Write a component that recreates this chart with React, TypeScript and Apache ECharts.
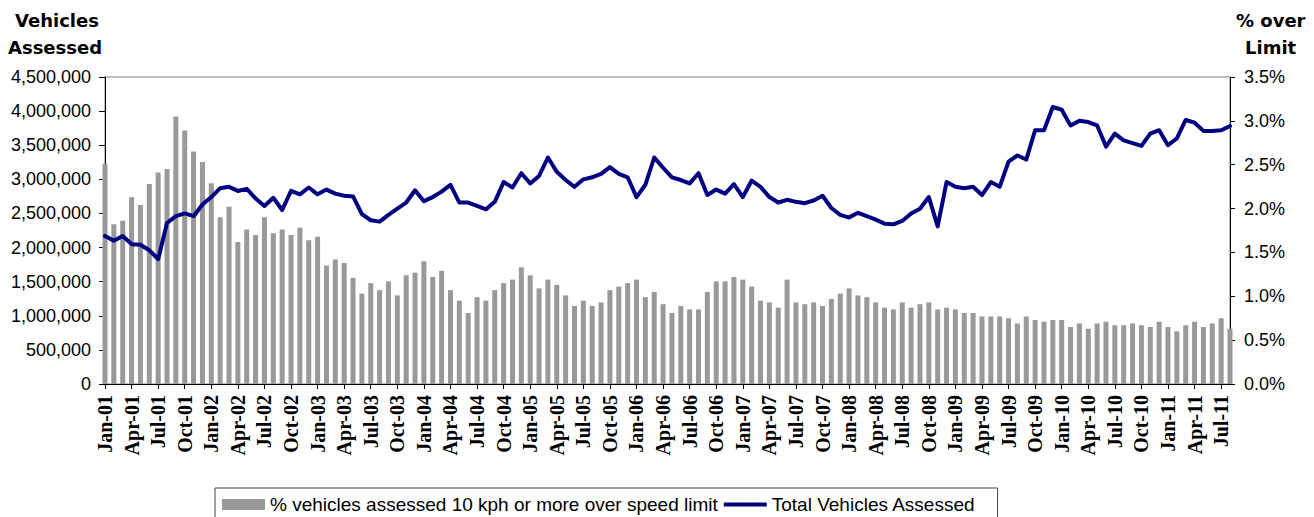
import React, { useEffect, useRef } from 'react';
import * as echarts from 'echarts';

const MONTHS = ['Jan', 'Feb', 'Mar', 'Apr', 'May', 'Jun', 'Jul', 'Aug', 'Sep', 'Oct', 'Nov', 'Dec'];
const categories: string[] = [];
for (let y = 1; y <= 11; y++) {
  for (let m = 0; m < 12; m++) {
    if (y === 11 && m > 7) break;
    categories.push(`${MONTHS[m]}-${String(y).padStart(2, '0')}`);
  }
}

const BAR_NAME = '% vehicles assessed 10 kph or more over speed limit';
const LINE_NAME = 'Total Vehicles Assessed';

// % of vehicles 10 kph or more over limit (right axis)
const pctOver = [
  2.51, 1.82, 1.86, 2.13, 2.04, 2.28, 2.41, 2.45, 3.05, 2.89,
  2.65, 2.53, 2.29, 1.90, 2.02, 1.62, 1.76, 1.70, 1.90, 1.72,
  1.76, 1.70, 1.78, 1.64, 1.68, 1.35, 1.42, 1.38, 1.21, 1.03,
  1.15, 1.07, 1.17, 1.01, 1.24, 1.27, 1.40, 1.22, 1.29, 1.07,
  0.95, 0.81, 0.99, 0.95, 1.07, 1.15, 1.19, 1.33, 1.24, 1.09,
  1.19, 1.13, 1.01, 0.89, 0.95, 0.89, 0.93, 1.07, 1.11, 1.15,
  1.19, 0.99, 1.05, 0.91, 0.81, 0.89, 0.85, 0.85, 1.05, 1.17,
  1.17, 1.22, 1.19, 1.11, 0.95, 0.93, 0.87, 1.19, 0.93, 0.91,
  0.93, 0.89, 0.97, 1.03, 1.09, 1.01, 0.99, 0.93, 0.87, 0.85,
  0.93, 0.87, 0.91, 0.93, 0.85, 0.87, 0.85, 0.81, 0.81, 0.77,
  0.77, 0.77, 0.75, 0.69, 0.77, 0.73, 0.71, 0.73, 0.73, 0.65,
  0.69, 0.63, 0.69, 0.71, 0.67, 0.67, 0.69, 0.67, 0.65, 0.71,
  0.65, 0.60, 0.67, 0.71, 0.65, 0.69, 0.75, 0.63,
];

// Total vehicles assessed (left axis)
const totalVehicles = [
  2170000, 2100000, 2170000, 2050000, 2040000, 1960000, 1830000, 2360000, 2460000, 2500000,
  2460000, 2630000, 2740000, 2870000, 2890000, 2830000, 2860000, 2720000, 2610000, 2730000,
  2550000, 2830000, 2780000, 2880000, 2780000, 2850000, 2790000, 2760000, 2750000, 2490000,
  2400000, 2380000, 2480000, 2570000, 2660000, 2840000, 2680000, 2740000, 2820000, 2920000,
  2660000, 2660000, 2610000, 2560000, 2670000, 2960000, 2880000, 3090000, 2940000, 3050000,
  3320000, 3110000, 2990000, 2890000, 3000000, 3030000, 3080000, 3180000, 3080000, 3030000,
  2740000, 2920000, 3320000, 3170000, 3030000, 2990000, 2940000, 3090000, 2770000, 2850000,
  2790000, 2930000, 2740000, 2980000, 2890000, 2740000, 2660000, 2700000, 2670000, 2650000,
  2690000, 2760000, 2580000, 2480000, 2440000, 2510000, 2460000, 2410000, 2350000, 2340000,
  2390000, 2500000, 2570000, 2740000, 2310000, 2960000, 2890000, 2870000, 2890000, 2770000,
  2960000, 2890000, 3260000, 3350000, 3290000, 3720000, 3720000, 4060000, 4020000, 3790000,
  3860000, 3840000, 3790000, 3480000, 3670000, 3570000, 3530000, 3490000, 3670000, 3720000,
  3500000, 3600000, 3870000, 3830000, 3710000, 3710000, 3720000, 3780000,
];

const LEFT_MAX = 4500000;
const LEFT_STEP = 500000;
const RIGHT_MAX = 3.5;
const RIGHT_STEP = 0.5;

const SANS = '"Liberation Sans", Arial, sans-serif';
const SERIF = '"Liberation Serif", "Times New Roman", serif';
const TITLE = '"DejaVu Sans", Verdana, sans-serif';

export default function App() {
  const ref = useRef<HTMLDivElement>(null);
  useEffect(() => {
    const chart = echarts.init(ref.current!, null, { renderer: 'svg' });
    chart.setOption({
      animation: false,
      backgroundColor: '#ffffff',
      grid: {
        left: 105,
        right: 84,
        top: 77,
        height: 307,
        show: true,
        borderColor: '#808080',
        borderWidth: 1,
      },
      graphic: [
        { type: 'text', left: 56 - 41, top: 11, style: { text: 'Vehicles', font: `bold 18px ${TITLE}`, fill: '#000' } },
        { type: 'text', left: 56 - 48, top: 38, style: { text: 'Assessed', font: `bold 18px ${TITLE}`, fill: '#000' } },
        { type: 'text', left: 1272 - 36, top: 11, style: { text: '% over', font: `bold 18px ${TITLE}`, fill: '#000' } },
        { type: 'text', left: 1271 - 26, top: 38, style: { text: 'Limit', font: `bold 18px ${TITLE}`, fill: '#000' } },
      ],
      legend: {
        left: 215,
        top: 488,
        itemWidth: 43,
        itemHeight: 11,
        itemGap: 6,
        symbolKeepAspect: true,
        padding: [7, 22, 30, 7],
        borderColor: '#404040',
        borderWidth: 1,
        textStyle: { fontFamily: SANS, fontSize: 19, color: '#000' },
        data: [
          { name: BAR_NAME, icon: 'rect' },
          { name: LINE_NAME, icon: 'path://M0,0H43V4H0Z' },
        ],
      },
      xAxis: {
        type: 'category',
        data: categories,
        boundaryGap: false,
        axisLine: { show: true, lineStyle: { color: '#000', width: 1 } },
        axisTick: { show: true, interval: 2, length: 5, lineStyle: { color: '#000' } },
        axisLabel: {
          interval: 2,
          rotate: 90,
          margin: 11,
          fontFamily: SERIF,
          fontWeight: 'bold',
          fontSize: 20,
          color: '#000',
        },
        splitLine: { show: false },
      },
      yAxis: [
        {
          type: 'value',
          min: 0,
          max: LEFT_MAX,
          interval: LEFT_STEP,
          position: 'left',
          axisLine: { show: true, lineStyle: { color: '#000', width: 1 } },
          axisTick: { show: true, length: 6, lineStyle: { color: '#000' } },
          axisLabel: {
            margin: 14,
            fontFamily: SANS,
            fontSize: 18,
            color: '#000',
            formatter: (v: number) => v.toLocaleString('en-US'),
          },
          splitLine: { show: false },
        },
        {
          type: 'value',
          min: 0,
          max: RIGHT_MAX,
          interval: RIGHT_STEP,
          position: 'right',
          axisLine: { show: true, lineStyle: { color: '#000', width: 1 } },
          axisTick: { show: true, length: 5, lineStyle: { color: '#000' } },
          axisLabel: {
            margin: 14,
            fontFamily: SANS,
            fontSize: 18,
            color: '#000',
            formatter: (v: number) => v.toFixed(1) + '%',
          },
          splitLine: { show: false },
        },
      ],
      series: [
        {
          name: BAR_NAME,
          type: 'bar',
          yAxisIndex: 1,
          data: pctOver,
          barWidth: 5,
          clip: true,
          itemStyle: { color: '#999999' },
          z: 2,
        },
        {
          name: LINE_NAME,
          type: 'line',
          yAxisIndex: 0,
          data: totalVehicles,
          symbol: 'none',
          showSymbol: false,
          clip: true,
          lineStyle: { color: '#000080', width: 4, join: 'round', cap: 'round' },
          itemStyle: { color: '#000080' },
          z: 3,
        },
      ],
    });
    return () => chart.dispose();
  }, []);
  return <div ref={ref} style={{ position: 'fixed', left: 0, top: 0, width: 1314, height: 517 }} />;
}
